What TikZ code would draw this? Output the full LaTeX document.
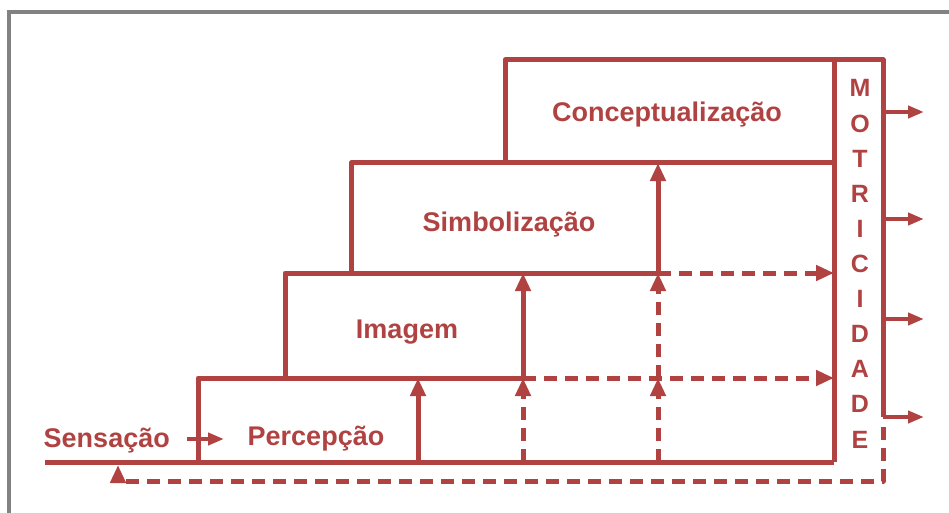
\documentclass[tikz,border=0pt]{standalone}
\usepackage{fontspec}
\setmainfont{Liberation Sans}
\usetikzlibrary{arrows.meta}
\definecolor{ink}{RGB}{176,66,66}
\definecolor{frame}{RGB}{130,130,130}
\begin{document}
\begin{tikzpicture}[x=1pt,y=-1pt,
  ln/.style={draw=ink,line width=5pt,line join=round},
  dsh/.style={ln,line width=5pt,dash pattern=on 13pt off 8pt},
  tip/.style={-{Triangle[length=18pt,width=15pt]}},
  otip/.style={-{Triangle[length=16pt,width=12pt]}},
  lbl/.style={inner sep=0pt,text=ink,font=\fontsize{27}{32}\selectfont\bfseries,anchor=base},
  letter/.style={inner sep=0pt,text=ink,font=\fontsize{25}{30}\selectfont\bfseries,anchor=base}]
\useasboundingbox (0,0) rectangle (949,513);
% frame
\draw[frame,line width=4pt] (9,513) -- (9,12) -- (949,12);
% grid coordinates
\coordinate (bl) at (45,462);
\coordinate (br) at (834,462);
\coordinate (p1) at (198,462);
\coordinate (p2) at (198,378);
\coordinate (p3) at (523,378);
\coordinate (i1) at (285,378);
\coordinate (i2) at (285,273);
\coordinate (i3) at (658,273);
\coordinate (s1) at (351,273);
\coordinate (s2) at (351,163);
\coordinate (s3) at (834,163);
\coordinate (c1) at (505,163);
\coordinate (c2) at (505,60);
\coordinate (c3) at (883,60);
\coordinate (c4) at (883,417);
\coordinate (m1) at (834,60);
\coordinate (v1a) at (418,462);
\coordinate (v1b) at (418,378);
\coordinate (v2a) at (523,462);
\coordinate (v2b) at (523,378);
\coordinate (v2c) at (523,273);
\coordinate (v3a) at (658,462);
\coordinate (v3b) at (658,378);
\coordinate (v3c) at (658,273);
\coordinate (v3d) at (658,163);
\coordinate (h1a) at (523,378);
\coordinate (h1b) at (834,378);
\coordinate (h2a) at (658,273);
\coordinate (h2b) at (834,273);
\coordinate (r1) at (883,427);
\coordinate (r2) at (883,481);
\coordinate (r3) at (118,481);
\coordinate (r4) at (118,465);
\coordinate (sa) at (187,439);
\coordinate (sb) at (224,439);
\foreach \y/\n in {112/1,219/2,319/3,417/4}{
  \coordinate (oa\n) at (883,\y);
  \coordinate (ob\n) at (924,\y);
}
% solid structure
\draw[ln] (bl) -- (br);
\draw[ln] (p1) -- (p2) -- (p3);
\draw[ln] (i1) -- (i2) -- (i3);
\draw[ln] (s1) -- (s2) -- (s3);
\draw[ln] (c1) -- (c2) -- (c3) -- (c4);
\draw[ln] (m1) -- (br);
% solid vertical arrows
\draw[ln,tip] (v1a) -- (v1b);
\draw[ln,tip] (v2b) -- (v2c);
\draw[ln,tip] (v3c) -- (v3d);
% dashed arrows
\draw[dsh,tip] (v2a) -- (v2b);
\draw[dsh,tip] (v3a) -- (v3b);
\draw[dsh,tip] (v3b) -- (v3c);
\draw[dsh,tip] (h1a) -- (h1b);
\draw[dsh,tip] (h2a) -- (h2b);
\draw[dsh,tip] (r1) -- (r2) -- (r3) -- (r4);
% outputs
\foreach \n in {1,...,4}{\draw[ln,line width=4pt,otip] (oa\n) -- (ob\n);}
% sensation arrow
\draw[ln,line width=4pt,otip] (sa) -- (sb);
% labels
\node[lbl] (conc) at (667,122) {Conceptualização};
\node[lbl] (simb) at (509,231) {Simbolização};
\node[lbl] (imag) at (407,338) {Imagem};
\node[lbl] (perc) at (316,445) {Percepção};
\node[lbl,anchor=base east] (sens) at (170,447) {Sensação};
\foreach \ch [count=\i] in {M,O,T,R,I,C,I,D,A,D,E}{
  \node[letter] (mot\i) at (860,{97+35.1*(\i-1)}) {\ch};
}
\end{tikzpicture}
\end{document}
